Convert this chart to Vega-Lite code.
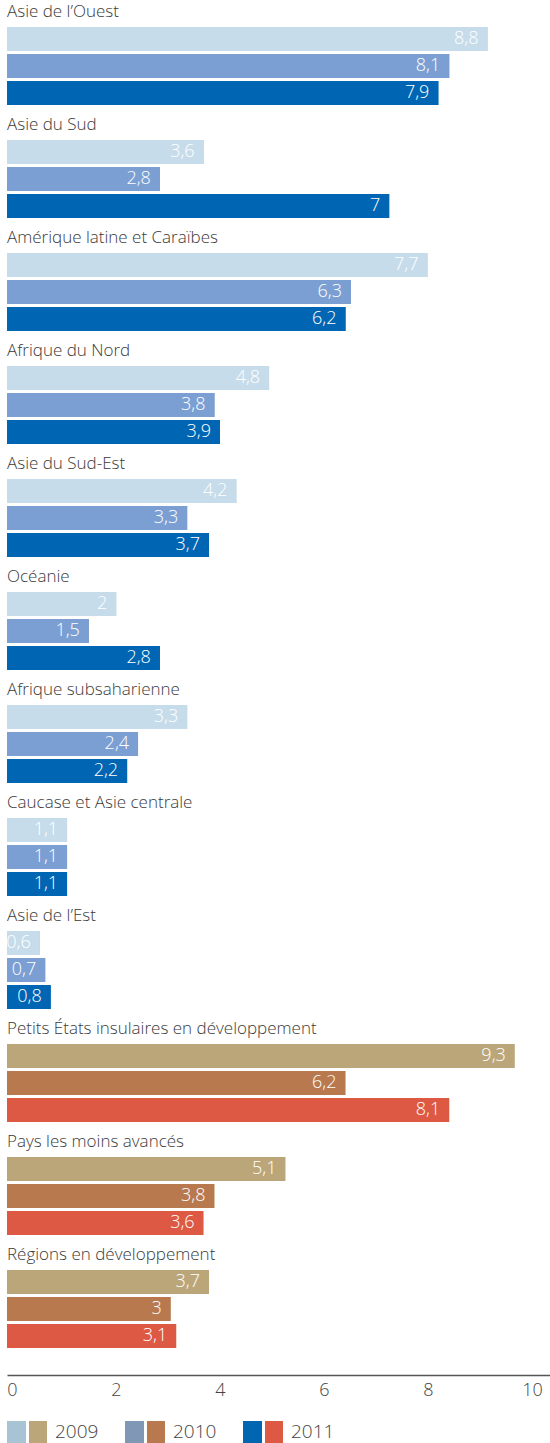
{
  "$schema": "https://vega.github.io/schema/vega-lite/v6.json",
  "width": 543,
  "height": 1375,
  "autosize": "none",
  "padding": {"left": 7, "top": 0, "right": 0, "bottom": 68},
  "config": {
    "view": {"stroke": null},
    "font": "Open Sans",
    "locale": {"number": {"decimal": ",", "thousands": "\u00a0", "grouping": [3], "currency": ["", "\u00a0€"]}}
  },
  "data": {"values": [
    {"region": "Asie de l’Ouest", "year": "2009", "value": 8.8, "kind": "r"},
    {"region": "Asie de l’Ouest", "year": "2010", "value": 8.1, "kind": "r"},
    {"region": "Asie de l’Ouest", "year": "2011", "value": 7.9, "kind": "r"},
    {"region": "Asie du Sud", "year": "2009", "value": 3.6, "kind": "r"},
    {"region": "Asie du Sud", "year": "2010", "value": 2.8, "kind": "r"},
    {"region": "Asie du Sud", "year": "2011", "value": 7, "kind": "r"},
    {"region": "Amérique latine et Caraïbes", "year": "2009", "value": 7.7, "kind": "r"},
    {"region": "Amérique latine et Caraïbes", "year": "2010", "value": 6.3, "kind": "r"},
    {"region": "Amérique latine et Caraïbes", "year": "2011", "value": 6.2, "kind": "r"},
    {"region": "Afrique du Nord", "year": "2009", "value": 4.8, "kind": "r"},
    {"region": "Afrique du Nord", "year": "2010", "value": 3.8, "kind": "r"},
    {"region": "Afrique du Nord", "year": "2011", "value": 3.9, "kind": "r"},
    {"region": "Asie du Sud-Est", "year": "2009", "value": 4.2, "kind": "r"},
    {"region": "Asie du Sud-Est", "year": "2010", "value": 3.3, "kind": "r"},
    {"region": "Asie du Sud-Est", "year": "2011", "value": 3.7, "kind": "r"},
    {"region": "Océanie", "year": "2009", "value": 2, "kind": "r"},
    {"region": "Océanie", "year": "2010", "value": 1.5, "kind": "r"},
    {"region": "Océanie", "year": "2011", "value": 2.8, "kind": "r"},
    {"region": "Afrique subsaharienne", "year": "2009", "value": 3.3, "kind": "r"},
    {"region": "Afrique subsaharienne", "year": "2010", "value": 2.4, "kind": "r"},
    {"region": "Afrique subsaharienne", "year": "2011", "value": 2.2, "kind": "r"},
    {"region": "Caucase et Asie centrale", "year": "2009", "value": 1.1, "kind": "r"},
    {"region": "Caucase et Asie centrale", "year": "2010", "value": 1.1, "kind": "r"},
    {"region": "Caucase et Asie centrale", "year": "2011", "value": 1.1, "kind": "r"},
    {"region": "Asie de l’Est", "year": "2009", "value": 0.6, "kind": "r"},
    {"region": "Asie de l’Est", "year": "2010", "value": 0.7, "kind": "r"},
    {"region": "Asie de l’Est", "year": "2011", "value": 0.8, "kind": "r"},
    {"region": "Petits États insulaires en développement", "year": "2009", "value": 9.3, "kind": "g"},
    {"region": "Petits États insulaires en développement", "year": "2010", "value": 6.2, "kind": "g"},
    {"region": "Petits États insulaires en développement", "year": "2011", "value": 8.1, "kind": "g"},
    {"region": "Pays les moins avancés", "year": "2009", "value": 5.1, "kind": "g"},
    {"region": "Pays les moins avancés", "year": "2010", "value": 3.8, "kind": "g"},
    {"region": "Pays les moins avancés", "year": "2011", "value": 3.6, "kind": "g"},
    {"region": "\u2002Régions en développement", "year": "2009", "value": 3.7, "kind": "g"},
    {"region": "\u2002Régions en développement", "year": "2010", "value": 3, "kind": "g"},
    {"region": "\u2002Régions en développement", "year": "2011", "value": 3.1, "kind": "g"}
  ]},
  "layer": [
    {
      "layer": [
        {
          "transform": [{"filter": "datum.kind === 'r'"}],
          "mark": {"type": "bar"},
          "encoding": {
            "y": {"field": "region", "type": "nominal", "sort": null, "axis": null,
                  "scale": {"paddingInner": 0, "paddingOuter": 0.084, "align": 0}},
            "yOffset": {"field": "year", "type": "nominal",
                        "scale": {"domain": ["2009", "2010", "2011"], "paddingInner": 0.111, "paddingOuter": 0.648, "align": 0.77}},
            "x": {"field": "value", "type": "quantitative", "axis": null,
                  "scale": {"domain": [0, 9.945], "nice": false, "zero": true}},
            "color": {"field": "year", "type": "nominal",
                      "scale": {"domain": ["2009", "2010", "2011"], "range": ["#a8c3d3", "#8098b5", "#0066b1"]},
                      "legend": {
                        "orient": "none", "legendX": 0, "legendY": 1412, "direction": "horizontal", "columns": 3,
                        "title": null, "padding": 0, "symbolType": "M-1,-0.55H-0.05V0.55H-1Z", "symbolSize": 1600,
                        "symbolStrokeWidth": 0, "labelFontSize": 19, "labelFont": "Open Sans", "labelFontWeight": 300,
                        "labelOffset": 8, "columnPadding": 26, "labelColor": "rgba(0,0,0,0)"
                      }}
          }
        },
        {
          "transform": [{"filter": "datum.kind === 'r'"}],
          "mark": {"type": "bar"},
          "encoding": {
            "y": {"field": "region", "type": "nominal", "sort": null, "axis": null},
            "yOffset": {"field": "year", "type": "nominal"},
            "x": {"field": "value", "type": "quantitative", "axis": null,
                  "scale": {"domain": [0, 9.945], "nice": false, "zero": true}},
            "color": {"field": "year", "type": "nominal",
                      "scale": {"domain": ["2009", "2010", "2011"], "range": ["#c6dcea", "#7b9fd3", "#0066b3"]},
                      "legend": null}
          }
        },
        {
          "transform": [{"filter": "datum.kind === 'g'"}],
          "mark": {"type": "bar"},
          "encoding": {
            "y": {"field": "region", "type": "nominal", "sort": null, "axis": null},
            "yOffset": {"field": "year", "type": "nominal"},
            "x": {"field": "value", "type": "quantitative", "axis": null,
                  "scale": {"domain": [0, 9.945], "nice": false, "zero": true}},
            "color": {"field": "year", "type": "nominal",
                      "scale": {"domain": ["2009", "2010", "2011"], "range": ["#bba67a", "#b8794f", "#dd5943"]},
                      "legend": {
                        "orient": "none", "legendX": 0, "legendY": 1412, "direction": "horizontal", "columns": 3,
                        "title": null, "padding": 0, "symbolType": "M0.1,-0.55H1V0.55H0.1Z", "symbolSize": 1600,
                        "symbolStrokeWidth": 0, "labelFontSize": 19, "labelFont": "Open Sans", "labelFontWeight": 300,
                        "labelOffset": 8, "columnPadding": 26, "labelColor": "#444444"
                      }}
          }
        },
        {
          "mark": {"type": "text", "align": "right", "baseline": "middle", "dx": -9, "color": "white", "fontSize": 18, "fontWeight": 300, "letterSpacing": 1},
          "encoding": {
            "y": {"field": "region", "type": "nominal", "sort": null, "axis": null},
            "yOffset": {"field": "year", "type": "nominal"},
            "x": {"field": "value", "type": "quantitative", "axis": null,
                  "scale": {"domain": [0, 9.945], "nice": false, "zero": true}},
            "text": {"field": "value", "type": "quantitative", "format": "~g"}
          }
        },
        {
          "transform": [{"filter": "datum.year === '2009'"}],
          "mark": {"type": "text", "align": "left", "baseline": "middle", "yOffset": -44.5, "color": "#3a3a3a", "fontSize": 17, "fontWeight": 300},
          "encoding": {
            "y": {"field": "region", "type": "nominal", "sort": null, "axis": null},
            "x": {"datum": 0, "type": "quantitative", "axis": null,
                  "scale": {"domain": [0, 9.945], "nice": false, "zero": true}},
            "text": {"field": "region", "type": "nominal"}
          }
        }
      ],
      "resolve": {"scale": {"color": "independent"}}
    },
    {
      "mark": {"type": "point", "opacity": 0},
      "encoding": {
        "x": {"field": "value", "type": "quantitative",
              "scale": {"domain": [-0.096, 10.346], "nice": false, "zero": false},
              "axis": {"orient": "bottom", "values": [0, 2, 4, 6, 8, 10], "grid": false, "ticks": false,
                       "domain": true, "domainColor": "#555555", "domainWidth": 1.5, "title": null,
                       "labelFontSize": 18, "labelFont": "Open Sans", "labelFontWeight": 300, "labelColor": "#444444", "labelPadding": 6}}
      }
    }
  ],
  "resolve": {"scale": {"x": "independent", "color": "independent"}}
}
